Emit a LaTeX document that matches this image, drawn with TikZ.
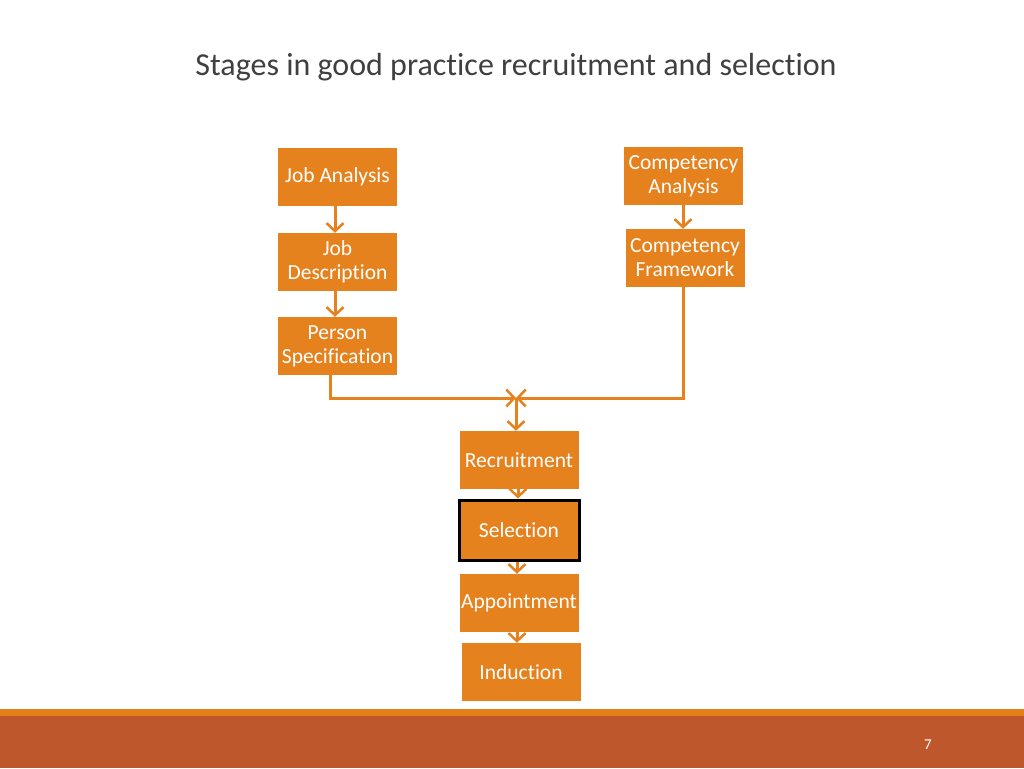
\documentclass[tikz,border=0pt]{standalone}
\usepackage{fontspec}
\setmainfont[Ligatures=NoCommon]{Carlito}
\usetikzlibrary{arrows.meta}
\definecolor{boxor}{HTML}{E6821E}
\definecolor{footdark}{HTML}{BE582C}
\definecolor{footline}{HTML}{E47F1A}
\definecolor{titlegray}{HTML}{404040}
\begin{document}
\begin{tikzpicture}[x=1pt,y=-1pt,
  stagebox/.style={fill=boxor,text=white,minimum width=119pt,minimum height=58pt,inner sep=1pt,align=center,font=\fontsize{21.5}{24}\selectfont},
  conn/.style={draw=boxor,line width=3pt,-{Straight Barb[length=8pt,width=17pt,line width=2.5pt]}},
  plain/.style={draw=boxor,line width=3pt}]
\useasboundingbox (0,0) rectangle (1024,768);
\fill[white] (0,0) rectangle (1024,768);
% footer
\fill[footline] (0,709) rectangle (1024,716);
\fill[footdark] (0,716) rectangle (1024,768);
\node[text=white,font=\fontsize{15}{17}\selectfont] (pg) at (928,745) {7};
% title
\node[text=titlegray,font=\fontsize{32}{38}\selectfont] (title) at (516,67) {Stages in good practice recruitment and selection};
% boxes
\node[stagebox] (ja) at (337.5,177) {Job Analysis};
\node[stagebox] (jd) at (337.5,262) {Job\\Description};
\node[stagebox] (ps) at (337.5,346) {Person\\Specification};
\node[stagebox] (ca) at (683.5,176) {Competency\\Analysis};
\node[stagebox] (cf) at (685,258) {Competency\\Framework};
\node[stagebox] (rec) at (519,460) {Recruitment};
\node[stagebox,minimum width=120pt,minimum height=60pt,draw=black,line width=3pt] (sel) at (519,530) {Selection};
\node[stagebox] (app) at (519,603) {Appointment};
\node[stagebox] (ind) at (521,672) {Induction};
% connectors
\draw[conn] (ja.south -| 335,0) -- (jd.north -| 335,0);
\draw[conn] (jd.south -| 335,0) -- (ps.north -| 335,0);
\draw[conn] (ca.south -| 683,0) -- (cf.north -| 683,0);
\coordinate (j) at (516,398);
\draw[conn] (ps.south -| 330,0) -- (330,398) -- (j);
\draw[conn] (cf.south -| 683,0) -- (683,398) -- (j);
\draw[conn] (j) -- (j |- rec.north);
\draw[conn] (rec.south -| 518,0) -- (sel.north -| 518,0);
\draw[conn] (sel.south -| 517,0) -- (app.north -| 517,0);
\draw[conn] (app.south -| 517,0) -- (ind.north -| 517,0);
\end{tikzpicture}
\end{document}
